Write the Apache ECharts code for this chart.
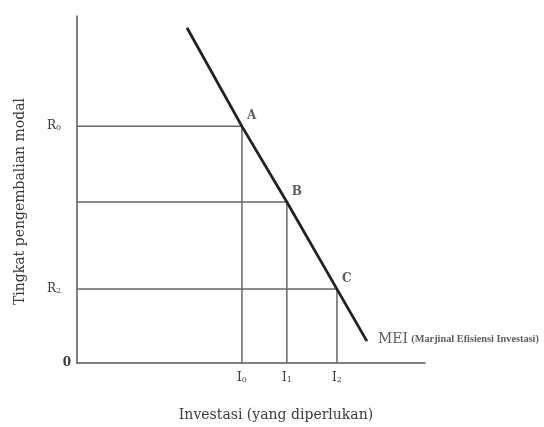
<!DOCTYPE html>
<html>
<head>
<meta charset="utf-8">
<script src="https://cdn.jsdelivr.net/npm/echarts@6/dist/echarts.min.js"></script>
<style>
  html, body { margin: 0; padding: 0; background: #fff; }
  #mei { width: 544px; height: 427px; }
</style>
</head>
<body>
<div id="mei"></div>
<script>
// kurva MEI dan titik A, B, C
var investLevels = [47.4, 60.3, 74.7];      // I0, I1, I2
var rateLevels = [68.2, 46.4, 21.3];        // R0, R1, R2
var pointNames = ['A', 'B', 'C'];
var xTickNames = ['0', '1', '2'];           // subscript I
var yTickValues = [0, 21.3, 68.2];
var yTickNames = ['0', 'R2', 'R0'];
var meiStart = [31.6, 96.6];
var meiEnd = [83.3, 6.3];

var fontSerif = 'DejaVu Serif';
var inkColor = '#3a3a3a';

function buildGuides() {
    var list = [];
    for (var i = 0; i < investLevels.length; i++) {
        //garis horizontal dari sumbu y ke titik
        list.push({
            type: 'line', silent: true, symbol: 'none',
            lineStyle: { color: '#666', width: 1.5 },
            data: [[0, rateLevels[i]], [investLevels[i], rateLevels[i]]]
        });
        //garis vertikal dari titik ke sumbu x
        list.push({
            type: 'line', silent: true, symbol: 'none',
            lineStyle: { color: '#666', width: 1.5 },
            data: [[investLevels[i], rateLevels[i]], [investLevels[i], 0]]
        });
    }
    return list;
}

function buildMei() {
    var data = [meiStart];
    for (var i = 0; i < investLevels.length; i++) {
        data.push([investLevels[i], rateLevels[i]]);
    }
    data.push(meiEnd);
    return {
        type: 'line', silent: true, symbol: 'none',
        lineStyle: { color: '#222', width: 2.8 },
        data: data,
        z: 5
    };
}

//label titik A, B, C dan label MEI
function buildLabels() {
    var data = [];
    for (var i = 0; i < investLevels.length; i++) {
        data.push({
            value: [investLevels[i], rateLevels[i]],
            label: {
                show: true,
                formatter: pointNames[i],
                position: 'right',
                offset: [0, -10],
                fontFamily: fontSerif,
                fontSize: 12,
                fontWeight: 'bold',
                color: '#333'
            }
        });
    }
    data.push({
        value: meiEnd,
        label: {
            show: true,
            position: 'right',
            offset: [6, -2],
            formatter: '{a|MEI} {b|(Marjinal Efisiensi Investasi)}',
            rich: {
                a: { fontFamily: fontSerif, fontSize: 14, color: '#333' },
                b: { fontFamily: 'Liberation Serif', fontSize: 10.3, fontWeight: 'bold', color: '#333' }
            }
        }
    });
    return {
        type: 'scatter', silent: true,
        symbolSize: 0,
        data: data,
        z: 6
    };
}

var chart = echarts.init(document.getElementById('mei'));
var option = {
    animation: false,
    backgroundColor: '#fff',
    grid: { left: 77, right: 119, top: 16, bottom: 63 },
    xAxis: {
        type: 'value', min: 0, max: 100,
        splitLine: { show: false },
        axisLine: { lineStyle: { color: '#555', width: 1.5 } },
        axisTick: { show: false },
        axisLabel: {
            customValues: investLevels,
            margin: 9,
            formatter: function (v) {
                return '{m|I}{s|' + xTickNames[investLevels.indexOf(v)] + '}';
            },
            rich: {
                m: { fontFamily: fontSerif, fontSize: 12, color: inkColor },
                s: { fontFamily: fontSerif, fontSize: 8, color: inkColor, verticalAlign: 'bottom', padding: [4, 0, 0, 0] }
            }
        },
        name: 'Investasi (yang diperlukan)',
        nameLocation: 'middle',
        nameGap: 45,
        nameTextStyle: { fontFamily: fontSerif, fontSize: 14, color: inkColor, padding: [0, 0, 0, 50] }
    },
    yAxis: {
        type: 'value', min: 0, max: 100,
        splitLine: { show: false },
        axisLine: { lineStyle: { color: '#555', width: 1.5 } },
        axisTick: { show: false },
        axisLabel: {
            customValues: yTickValues,
            margin: 6,
            formatter: function (v) {
                var n = yTickNames[yTickValues.indexOf(v)];
                if (n === '0') return '{z|0}';
                return '{m|R}{s|' + n.charAt(1) + '}';
            },
            rich: {
                z: { fontFamily: fontSerif, fontSize: 12, fontWeight: 'bold', color: inkColor },
                m: { fontFamily: fontSerif, fontSize: 12, color: inkColor },
                s: { fontFamily: fontSerif, fontSize: 8, color: inkColor, padding: [4, 10, 0, 0] }
            }
        },
        name: 'Tingkat pengembalian modal',
        nameLocation: 'middle',
        nameGap: 50,
        nameTextStyle: { fontFamily: fontSerif, fontSize: 14, color: inkColor, padding: [0, 24, 0, 0] }
    },
    series: buildGuides().concat([buildMei(), buildLabels()])
};
chart.setOption(option);
</script>
</body>
</html>
